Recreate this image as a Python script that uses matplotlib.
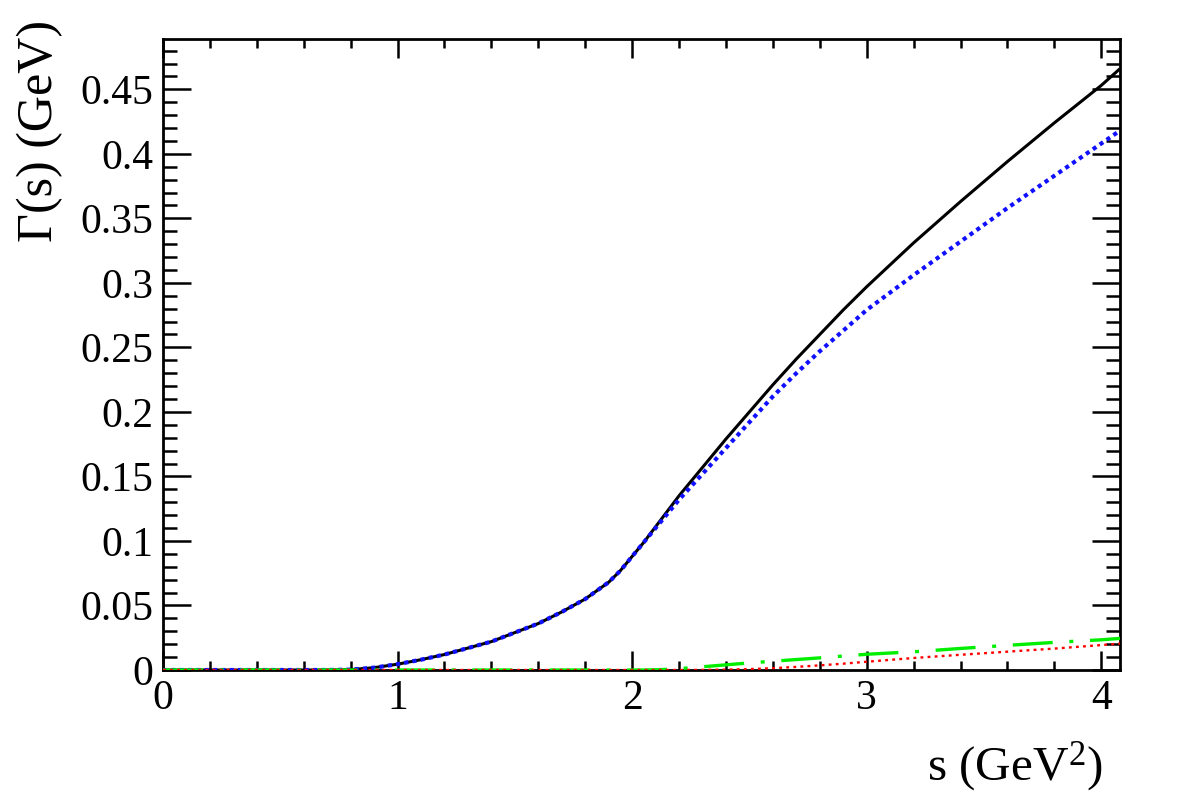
import matplotlib
matplotlib.use("Agg")
import matplotlib.pyplot as plt
from matplotlib.ticker import MultipleLocator, FuncFormatter

# ---- data ----
s_vals = [0.0, 0.2, 0.4, 0.6, 0.7, 0.8, 0.9, 1.0, 1.1, 1.2, 1.3, 1.4, 1.5, 1.6, 1.7,
          1.8, 1.9, 1.95, 2.0, 2.05, 2.1, 2.15, 2.2, 2.3, 2.4, 2.5, 2.6, 2.7, 2.8, 2.9,
          3.0, 3.2, 3.4, 3.6, 3.8, 4.0, 4.08]
gamma_total = [0.0, 0.0, 0.0, 0.0, 0.0, 0.0003, 0.0018, 0.0045, 0.008, 0.012, 0.017,
               0.022, 0.029, 0.036, 0.045, 0.055, 0.068, 0.077, 0.088, 0.099, 0.111,
               0.123, 0.135, 0.157, 0.179, 0.200, 0.221, 0.241, 0.260, 0.279, 0.297,
               0.331, 0.363, 0.394, 0.424, 0.453, 0.466]
gamma_blue = [0.0, 0.0, 0.0, 0.0, 0.0, 0.0003, 0.0018, 0.0045, 0.008, 0.012, 0.017,
              0.022, 0.029, 0.036, 0.045, 0.055, 0.068, 0.077, 0.088, 0.099, 0.110,
              0.121, 0.132, 0.152, 0.172, 0.192, 0.212, 0.230, 0.247, 0.263, 0.279,
              0.306, 0.332, 0.358, 0.383, 0.408, 0.418]
gamma_red = [0.0, 0.0, 0.0, 0.0, 0.0, 0.0, 0.0, 0.0, 0.0, 0.0, 0.0, 0.0, 0.0, 0.0, 0.0,
             0.0, 0.0, 0.0, 0.0, 0.0, 0.0, 0.0, 0.0, 0.0001, 0.0003, 0.0007, 0.0014,
             0.0024, 0.0036, 0.0049, 0.0064, 0.0093, 0.0118, 0.0142, 0.0166, 0.0193,
             0.0205]
gamma_green = [0.0, 0.0, 0.0, 0.0, 0.0, 0.0, 0.0, 0.0, 0.0, 0.0, 0.0, 0.0, 0.0, 0.0, 0.0,
               0.0, 0.0, 0.0, 0.0, 0.0, 0.0002, 0.0005, 0.0010, 0.0025, 0.0040, 0.0055,
               0.0068, 0.0081, 0.0094, 0.0108, 0.0122, 0.0141, 0.0167, 0.0191, 0.0214,
               0.0234, 0.0245]

x_range = (0.0, 4.08)
y_range = (0.0, 0.489)

# ---- style ----
plt.rcParams['font.family'] = ['Liberation Serif', 'DejaVu Serif']
plt.rcParams['mathtext.fontset'] = 'custom'
plt.rcParams['mathtext.rm'] = 'Liberation Serif'
plt.rcParams['mathtext.it'] = 'Liberation Serif:italic'

fig = plt.figure(figsize=(11.82, 8.0), dpi=100)
ax = fig.add_axes([163 / 1182, 1 - 670 / 800, (1120 - 163) / 1182, (670 - 39) / 800])

ax.plot(s_vals, gamma_total, color='black', lw=2.2, solid_capstyle='butt',
        solid_joinstyle='round', zorder=3)
ax.plot(s_vals, gamma_blue, color='#1010ff', lw=3.0, linestyle=(0, (1.0, 1.0)), zorder=4)
ax.plot(s_vals, gamma_green, color='#00ee00', lw=2.4, linestyle=(0, (12, 5, 1.2, 5)), zorder=5)
ax.plot(s_vals, gamma_red, color='#ff0000', lw=1.7, linestyle=(0, (1.2, 1.8)), zorder=6)

ax.set_xlim(*x_range)
ax.set_ylim(*y_range)

ax.xaxis.set_major_locator(MultipleLocator(1))
ax.xaxis.set_minor_locator(MultipleLocator(0.2))
ax.yaxis.set_major_locator(MultipleLocator(0.05))
ax.yaxis.set_minor_locator(MultipleLocator(0.01))
fmt = FuncFormatter(lambda v, p: f"{round(v, 4):g}")
ax.xaxis.set_major_formatter(fmt)
ax.yaxis.set_major_formatter(fmt)

for sp in ax.spines.values():
    sp.set_linewidth(2.0)

ax.tick_params(axis='both', which='both', direction='in', top=True, right=True,
               width=1.8, labelsize=30, color='black')
ax.tick_params(axis='x', which='major', length=13.7, pad=7)
ax.tick_params(axis='x', which='minor', length=6.8)
ax.tick_params(axis='y', which='major', length=20, pad=7)
ax.tick_params(axis='y', which='minor', length=10)

fig.text(1103 / 1182, 1 - 780 / 800, r"s (GeV$^{\mathrm{2}}$)", fontsize=35.5,
         ha='right', va='baseline')
fig.text(52 / 1182, 1 - 20 / 800, "Γ(s) (GeV)", fontsize=36, rotation=90,
         rotation_mode='anchor', ha='right', va='baseline')

fig.savefig("out.png", dpi=100)
